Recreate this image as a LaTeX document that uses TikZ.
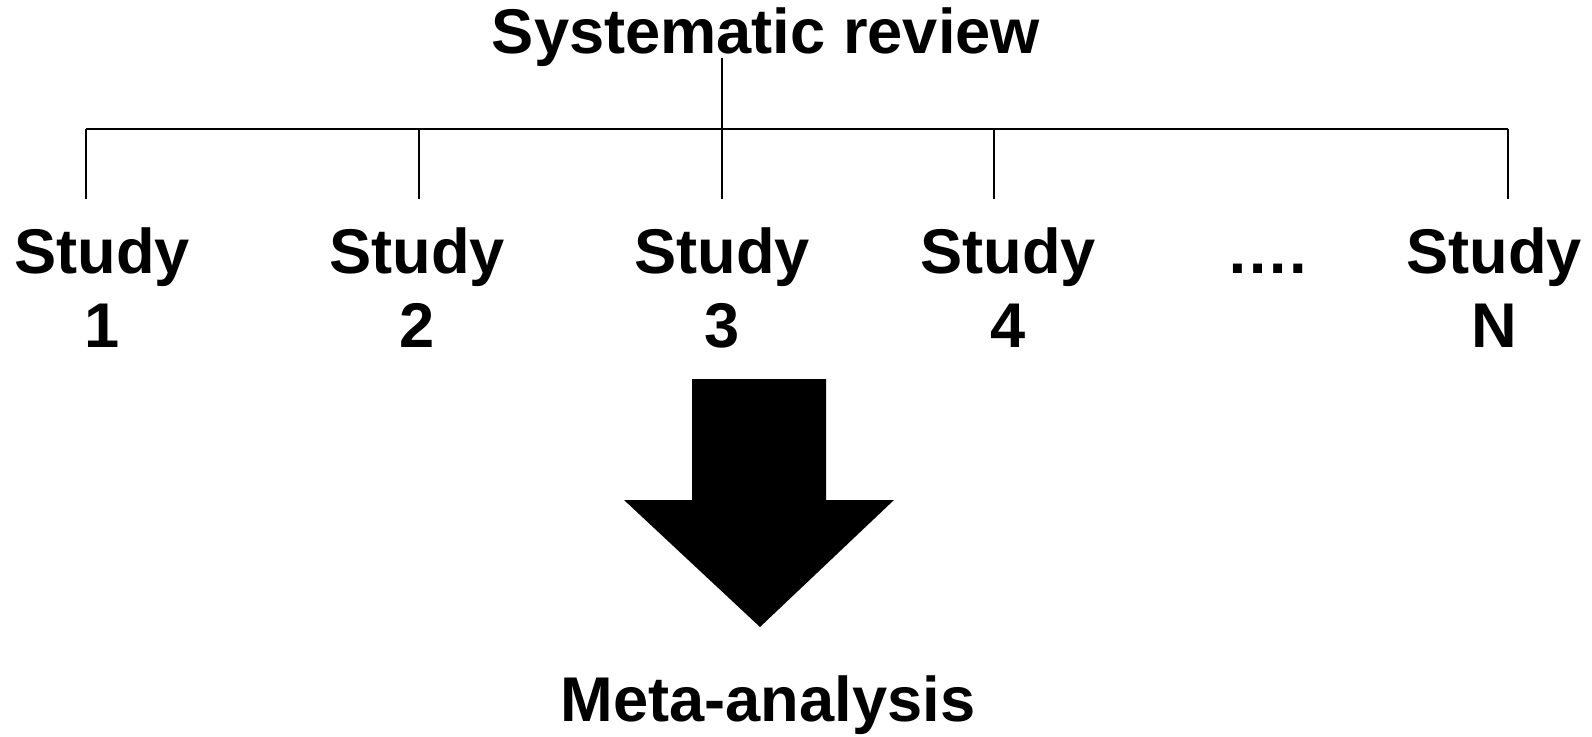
\documentclass[tikz,border=0pt]{standalone}
\usepackage{fontspec}
\setmainfont{Liberation Sans}
\usepackage{tikz}
\usetikzlibrary{positioning}

\begin{document}
\begin{tikzpicture}[x=0.5pt, y=-0.5pt,
    line cap=butt, line join=miter,
    word/.style={font=\fontsize{31.6}{37}\selectfont\bfseries, inner sep=0pt, anchor=base},
    study/.style={word, align=center, inner ysep=14pt},
    wire/.style={black, line width=1.4pt}]
\useasboundingbox (0,0) rectangle (1592,736);

% TITLE
\node[word] (title) at (766,53) {Systematic review};
\coordinate (top) at (722,58);

% STUDIES
\foreach \x/\n/\name in {102/1/s1, 417/2/s2, 722/3/s3, 1008/4/s4, 1494/N/sN}
  \node[study] (\name) at (\x,347) {Study\\\n};
\node[word] (dots) at (1267,273) {….};

% BUS
\foreach \x/\name in {86/1, 419/2, 722/3, 994/4, 1508/N}
  \coordinate (b\name) at (\x,129);
\draw[wire] (b1) -- (bN);
\draw[wire] (top) -- (s3.north);
\foreach \name in {1,2,4,N}
  \draw[wire] (b\name) -- (b\name |- s\name.north);

% big arrow
\fill (692,379) -- (826,379) -- (826,500) -- (894,500) -- (760,627)
      -- (624,500) -- (692,500) -- cycle;

\node[word] (meta) at (768,721) {Meta-analysis};

\end{tikzpicture}
\end{document}
